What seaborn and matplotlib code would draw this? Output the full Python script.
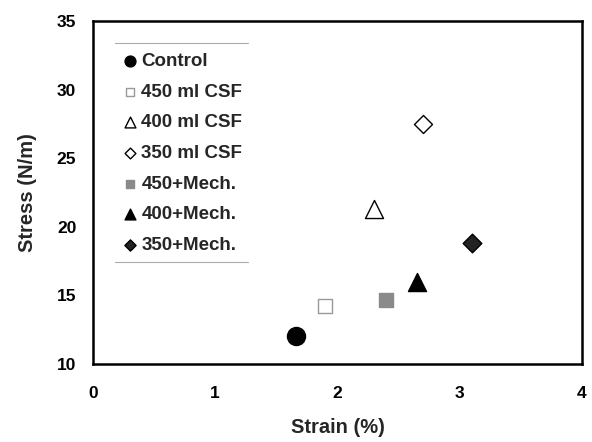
import matplotlib
matplotlib.use("Agg")
import matplotlib.pyplot as plt
import seaborn as sns
import pandas as pd
from matplotlib.lines import Line2D

sns.set_theme(style="white")
plt.rcParams['font.family'] = ['Liberation Sans', 'DejaVu Sans']
plt.rcParams['font.weight'] = 'bold'

labels = ["Control", "450 ml CSF", "400 ml CSF", "350 ml CSF",
          "450+Mech.", "400+Mech.", "350+Mech."]
strain = [1.66, 1.90, 2.30, 2.70, 2.40, 2.65, 3.10]
stress = [12.05, 14.2, 21.3, 27.5, 14.7, 16.0, 18.8]

markers = ["o", "s", "^", "D", "s", "^", "D"]
faces = ["black", "white", "white", "white", "#8a8a8a", "black", "#222222"]
edges = ["black", "#999999", "black", "black", "#8a8a8a", "black", "black"]
sizes = [169, 115, 169, 84, 110, 169, 90]

df = pd.DataFrame({"label": labels, "strain": strain, "stress": stress})

fig = plt.figure(figsize=(5.92, 4.42), dpi=100)
ax = fig.add_axes([0.157, 0.1765, 0.826, 0.776])

for i, row in df.iterrows():
    sns.scatterplot(x=[row.strain], y=[row.stress], marker=markers[i], s=sizes[i],
                    color=faces[i], edgecolor=edges[i], linewidth=1.0,
                    label=row.label, ax=ax, zorder=3)

ax.set_xlim(0, 4)
ax.set_ylim(10, 35)
ax.set_xticks([0, 1, 2, 3, 4])
ax.set_yticks([10, 15, 20, 25, 30, 35])
ax.tick_params(direction="in", length=4, width=1.5, labelsize=12.5, colors="black")
ax.tick_params(axis="x", pad=16)
ax.tick_params(axis="y", pad=12)
for lab in ax.get_xticklabels() + ax.get_yticklabels():
    lab.set_fontweight("bold")
for sp in ax.spines.values():
    sp.set_linewidth(1.8)
    sp.set_color("black")

ax.set_xlabel("Strain (%)", fontsize=14.5, fontweight="bold", labelpad=12)
ax.set_ylabel("Stress (N/m)", fontsize=14.5, fontweight="bold", labelpad=14)

leg = ax.legend(loc="upper left", bbox_to_anchor=(0.03, 0.945), frameon=False,
                fontsize=13.5, markerscale=0.6, handletextpad=0.1,
                labelspacing=0.72, handlelength=1.0, borderpad=0.2)
for t in leg.get_texts():
    t.set_fontweight("bold")

# faint rules above and below the legend block
ax.add_line(Line2D([0.045, 0.317], [0.936, 0.936], transform=ax.transAxes,
                   color="#aaaaaa", lw=0.8))
ax.add_line(Line2D([0.045, 0.317], [0.297, 0.297], transform=ax.transAxes,
                   color="#aaaaaa", lw=0.8))

fig.savefig("out.png", dpi=100)
